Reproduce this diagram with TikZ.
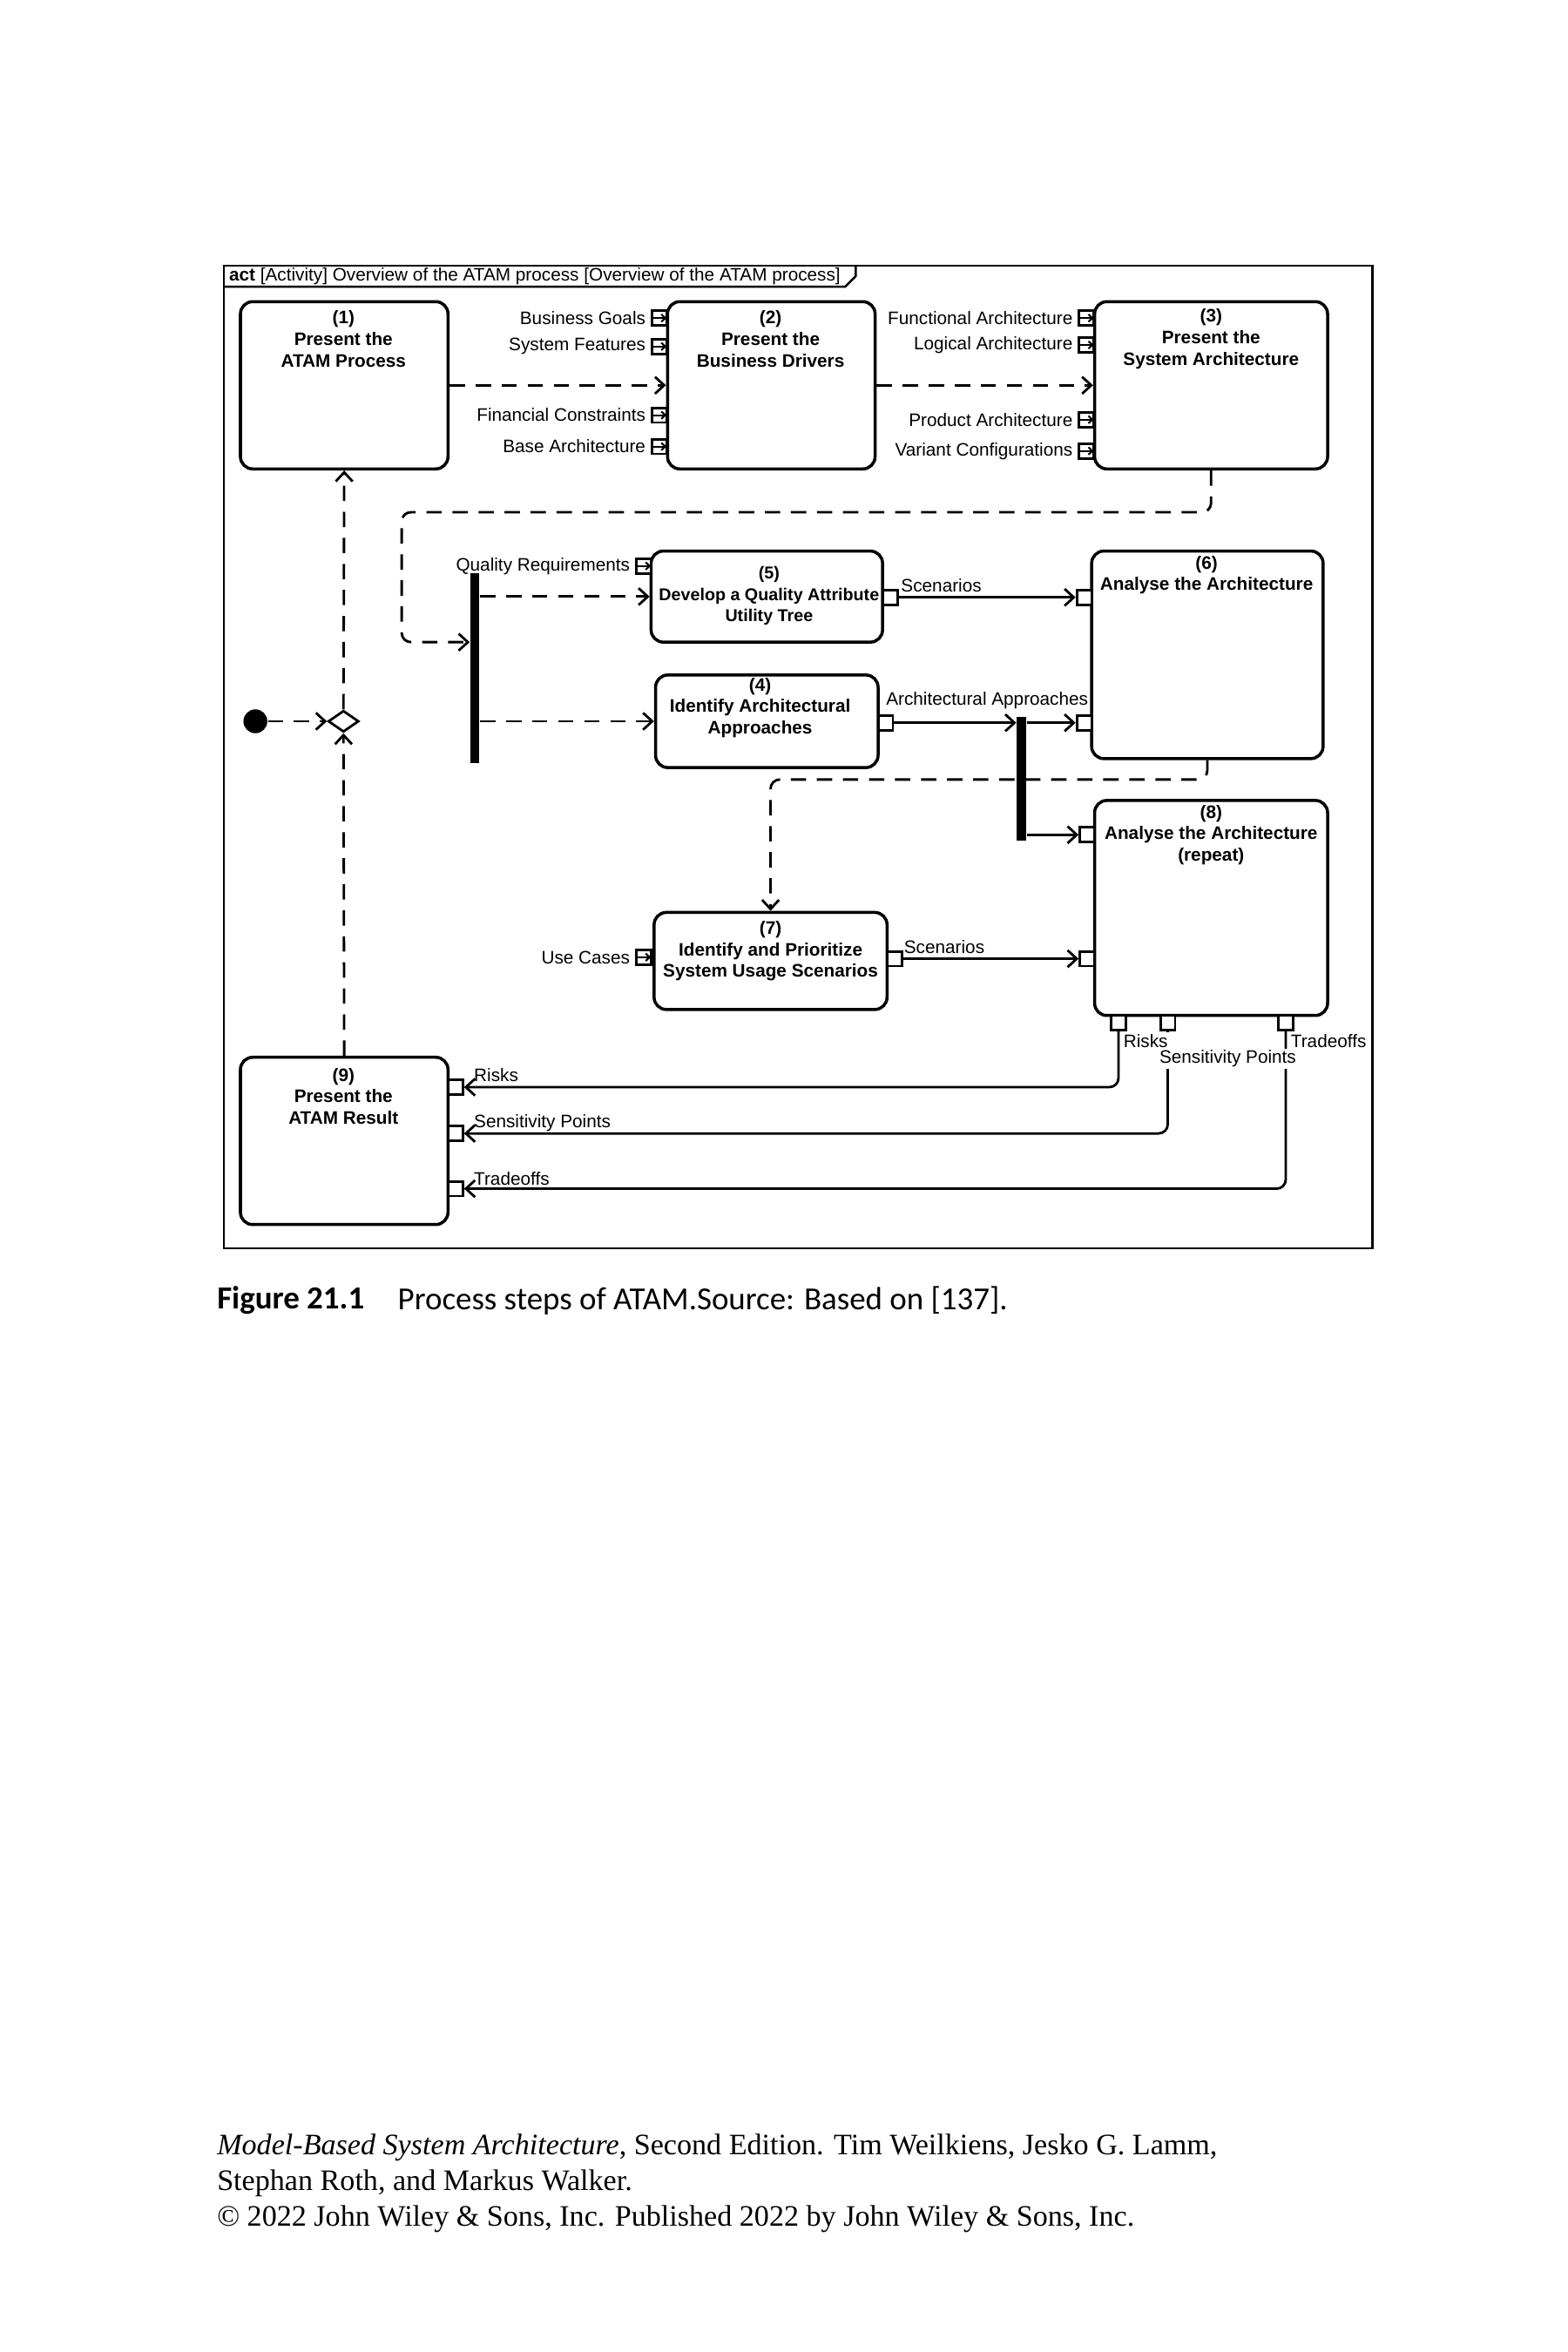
\documentclass[tikz,border=0pt]{standalone}
\usepackage{fontspec}
\setmainfont{Liberation Serif}
\setsansfont{Liberation Sans}
\newfontfamily\capfont{Carlito}
\usetikzlibrary{arrows.meta,calc,fit,positioning,shapes.geometric}

\begin{document}
\begin{tikzpicture}[x=0.017143cm, y=-0.017143cm,
  >={Straight Barb[length=3pt,width=5.5pt]},
  action/.style={draw, line width=1pt, rounded corners=4pt, inner sep=0pt},
  acttxt/.style={font=\sffamily\bfseries\fontsize{5.9}{7}\selectfont, align=center, inner sep=0pt},
  lbl/.style={font=\sffamily\fontsize{5.9}{7}\selectfont, inner sep=0.5pt},
  pinbox/.style={draw, fill=white, line width=0.8pt, minimum size=4.8pt, inner sep=0pt},
  pinin/.style={pinbox, path picture={\draw[line width=0.6pt, -{Straight Barb[length=1.3pt,width=2.4pt]}] (path picture bounding box.west) -- (path picture bounding box.east);}},
  ctrl/.style={->, line width=0.8pt, dash pattern=on 5pt off 3.5pt},
  obj/.style={->, line width=0.8pt},
  fork/.style={fill=black, inner sep=0pt, minimum width=3pt}]
\fill[white] (0,0) rectangle (1050,1575);
\useasboundingbox (0,0) rectangle (1050,1575);

% frame
\draw[line width=0.7pt] (150,178) rectangle (919,836);
\draw[line width=0.7pt] (150,192) -- (566,192) -- (573,185) -- (573,178);
\node[lbl, anchor=west] (title) at (152,185) {\textbf{act} [Activity] Overview of the ATAM process [Overview of the ATAM process]};

% actions
\node[action, fit={(161,202) (300,314)}] (a1) {};
\node[action, fit={(447,202) (586,314)}] (a2) {};
\node[action, fit={(733,202) (889,314)}] (a3) {};
\node[action, fit={(436,369) (591,430)}] (a5) {};
\node[action, fit={(731,369) (886,508)}] (a6) {};
\node[action, fit={(439,452) (588,514)}] (a4) {};
\node[action, fit={(733,536) (889,680)}] (a8) {};
\node[action, fit={(438,611) (594,676)}] (a7) {};
\node[action, fit={(161,708) (300,820)}] (a9) {};

\node[acttxt] (t1) at (230,227) {(1)\\Present the\\ATAM Process};
\node[acttxt] (t2) at (516,227) {(2)\\Present the\\Business Drivers};
\node[acttxt] (t3) at (811,227) {(3)\\Present the\\System Architecture};
\node[acttxt, font=\sffamily\bfseries\fontsize{5.6}{7}\selectfont] (t5) at (515,399) {(5)\\Develop a Quality Attribute\\Utility Tree};
\node[acttxt] (t6) at (808,385) {(6)\\Analyse the Architecture};
\node[acttxt] (t4) at (509,474) {(4)\\Identify Architectural\\Approaches};
\node[acttxt] (t8) at (811,559) {(8)\\Analyse the Architecture\\(repeat)};
\node[acttxt] (t7) at (516,637) {(7)\\Identify and Prioritize\\System Usage Scenarios};
\node[acttxt] (t9) at (230,734) {(9)\\Present the\\ATAM Result};

% control nodes
\node[circle, fill=black, minimum size=7.8pt, inner sep=0pt] (start) at (171,483) {};
\node[diamond, draw, line width=0.8pt, fill=white, minimum width=10pt, minimum height=7pt, inner sep=0pt] (merge) at (230,483) {};
\node[fork, fit={(318,384) (318,511)}] (fork1) {};
\node[fork, fit={(684,480) (684,563)}] (fork2) {};

% input pins
\node[pinin] (p21) at (441.5,213) {};
\node[pinin] (p22) at (441.5,232) {};
\node[pinin] (p23) at (441.5,278) {};
\node[pinin] (p24) at (441.5,299) {};
\node[lbl, left=1pt of p21] (l21) {Business Goals};
\node[lbl, left=1pt of p22] (l22) {System Features};
\node[lbl, left=1pt of p23] (l23) {Financial Constraints};
\node[lbl, left=1pt of p24] (l24) {Base Architecture};
\node[pinin] (p31) at (727.5,213) {};
\node[pinin] (p32) at (727.5,231) {};
\node[pinin] (p33) at (727.5,281) {};
\node[pinin] (p34) at (727.5,302) {};
\node[lbl, left=1pt of p31] (l31) {Functional Architecture};
\node[lbl, left=1pt of p32] (l32) {Logical Architecture};
\node[lbl, left=1pt of p33] (l33) {Product Architecture};
\node[lbl, left=1pt of p34] (l34) {Variant Configurations};
\node[pinin] (p5q) at (431,379) {};
\node[lbl, left=1pt of p5q] (l5q) {Quality Requirements};
\node[pinin] (p7u) at (431,641) {};
\node[lbl, left=1pt of p7u] (l7u) {Use Cases};

% object pins
\node[pinbox] (p5o) at (596,400) {};
\node[pinbox] (p6a) at (726,400) {};
\node[pinbox] (p4o) at (593,484) {};
\node[pinbox] (p6b) at (726,484) {};
\node[pinbox] (p8a) at (728,559) {};
\node[pinbox] (p7o) at (599,642) {};
\node[pinbox] (p8b) at (728,642) {};
\node[pinbox] (p8r) at (749,685) {};
\node[pinbox] (p8s) at (782,685) {};
\node[pinbox] (p8t) at (861,685) {};
\node[pinbox] (p9r) at (305,728) {};
\node[pinbox] (p9s) at (305,759) {};
\node[pinbox] (p9t) at (305,796) {};

% control flows
\coordinate (k1) at (269,343);
\coordinate (k2) at (269,430);
\coordinate (k3) at (516,522);
\draw[ctrl] (start) -- (merge);
\draw[ctrl] (merge.north) -- (a1.south);
\draw[ctrl] (a9.north) -- (merge.south);
\draw[ctrl] (a1) -- (a2);
\draw[ctrl] (a2) -- (a3);
\draw[ctrl, rounded corners=3pt] (a3.south) |- (k1) -- (k2) -- (k2 -| fork1.west);
\draw[ctrl] (fork1.east |- a5.west) -- (a5.west);
\draw[ctrl] (fork1.east |- a4.west) -- (a4.west);
\draw[ctrl, rounded corners=3pt] (a6.south) |- (k3) -- (k3 |- a7.north);

% object flows
\draw[obj] (p5o) -- (p6a);
\draw[obj] (p4o) -- (p4o -| fork2.west);
\draw[obj] (fork2.east |- p6b) -- (p6b);
\draw[obj] (fork2.east |- p8a) -- (p8a);
\draw[obj] (p7o) -- (p8b);
\draw[obj, rounded corners=3pt] (p8r.south) |- (p9r.east);
\draw[obj, rounded corners=3pt] (p8s.south) |- (p9s.east);
\draw[obj, rounded corners=3pt] (p8t.south) |- (p9t.east);

\node[lbl, anchor=west] (l5o) at (602,392) {Scenarios};
\node[lbl, anchor=west] (l4o) at (592,469) {Architectural Approaches};
\node[lbl, anchor=west] (l7o) at (604,634) {Scenarios};
\node[lbl, anchor=west, fill=white] (l8r) at (751,697) {Risks};
\node[lbl, anchor=west, fill=white] (l8s) at (775,709) {Sensitivity Points};
\node[lbl, anchor=west] (l8t) at (863,697) {Tradeoffs};
\node[lbl, anchor=west] (l9r) at (316,720) {Risks};
\node[lbl, anchor=west] (l9s) at (316,752) {Sensitivity Points};
\node[lbl, anchor=west] (l9t) at (316,789) {Tradeoffs};

% caption and imprint
\node[anchor=west, font=\capfont\bfseries\fontsize{10.5}{12}\selectfont, inner sep=0pt] (fig) at (145,871) {Figure 21.1};
\node[anchor=west, font=\capfont\fontsize{10.5}{12}\selectfont, inner sep=0pt] (cap) at (266,871) {Process steps of ATAM.Source: Based on [137].};
\node[anchor=west, align=left, font=\rmfamily\fontsize{9.7}{11.7}\selectfont, inner sep=0pt] (foot) at (145,1462) {\textit{Model-Based System Architecture}, Second Edition. Tim Weilkiens, Jesko G. Lamm,\\Stephan Roth, and Markus Walker.\\\textcopyright{} 2022 John Wiley \& Sons, Inc. Published 2022 by John Wiley \& Sons, Inc.};
\end{tikzpicture}
\end{document}
